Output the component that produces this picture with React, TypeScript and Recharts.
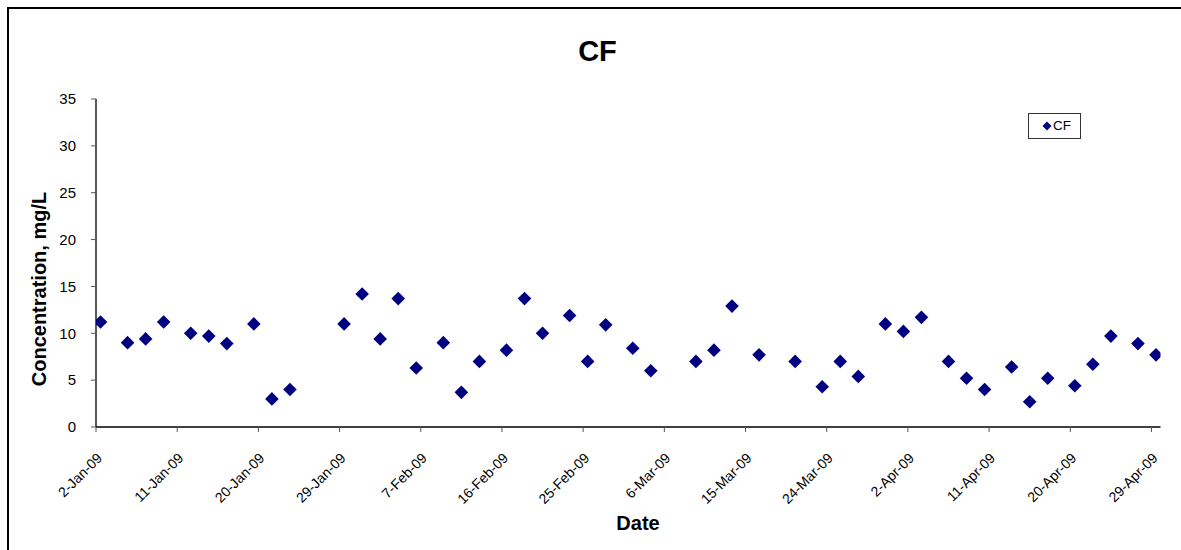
import React from "react";
import { ScatterChart, Scatter, XAxis, YAxis, Legend } from "recharts";

// Sample dates and CF concentrations (mg/L)
const SAMPLE_DATES = [
  "2009-01-02", "2009-01-05", "2009-01-07", "2009-01-09", "2009-01-12", "2009-01-14",
  "2009-01-16", "2009-01-19", "2009-01-21", "2009-01-23", "2009-01-29", "2009-01-31",
  "2009-02-02", "2009-02-04", "2009-02-06", "2009-02-09", "2009-02-11", "2009-02-13",
  "2009-02-16", "2009-02-18", "2009-02-20", "2009-02-23", "2009-02-25", "2009-02-27",
  "2009-03-02", "2009-03-04", "2009-03-09", "2009-03-11", "2009-03-13", "2009-03-16",
  "2009-03-20", "2009-03-23", "2009-03-25", "2009-03-27", "2009-03-30", "2009-04-01",
  "2009-04-03", "2009-04-06", "2009-04-08", "2009-04-10", "2009-04-13", "2009-04-15",
  "2009-04-17", "2009-04-20", "2009-04-22", "2009-04-24", "2009-04-27", "2009-04-29",
];

const CF_VALUES = [
  11.2, 9.0, 9.4, 11.2, 10.0, 9.7,
  8.9, 11.0, 3.0, 4.0, 11.0, 14.2,
  9.4, 13.7, 6.3, 9.0, 3.7, 7.0,
  8.2, 13.7, 10.0, 11.9, 7.0, 10.9,
  8.4, 6.0, 7.0, 8.2, 12.9, 7.7,
  7.0, 4.3, 7.0, 5.4, 11.0, 10.2,
  11.7, 7.0, 5.2, 4.0, 6.4, 2.7,
  5.2, 4.4, 6.7, 9.7, 8.9, 7.7,
];

const Y_TICKS = [0, 5, 10, 15, 20, 25, 30, 35];
const TICK_STEP_DAYS = 9;
const MONTHS = ["Jan", "Feb", "Mar", "Apr", "May", "Jun", "Jul", "Aug", "Sep", "Oct", "Nov", "Dec"];

const FONT = "'Liberation Sans', Arial, sans-serif";
const MARKER = "#000080";
const DAY_MS = 86400000;

const toUtc = (iso: string) => {
  const [y, m, d] = iso.split("-").map(Number);
  return Date.UTC(y, m - 1, d);
};
const START = toUtc(SAMPLE_DATES[0]);
const dayIndex = (iso: string) => Math.round((toUtc(iso) - START) / DAY_MS);

const formatDay = (idx: number) => {
  const dt = new Date(START + idx * DAY_MS);
  return `${dt.getUTCDate()}-${MONTHS[dt.getUTCMonth()]}-${String(dt.getUTCFullYear()).slice(2)}`;
};

const data = SAMPLE_DATES.map((d, i) => ({ day: dayIndex(d), cf: CF_VALUES[i] }));
const lastDay = dayIndex(SAMPLE_DATES[SAMPLE_DATES.length - 1]);

// Excel-style date axis: each day is a slot, ticks sit on the slot's left edge
const xTicks: number[] = [];
for (let t = 0; t <= lastDay; t += TICK_STEP_DAYS) xTicks.push(t - 0.5);

const Diamond = (props: any) => {
  const { cx, cy } = props;
  const r = 6.8;
  return (
    <polygon
      points={`${cx},${cy - r} ${cx + r},${cy} ${cx},${cy + r} ${cx - r},${cy}`}
      fill={MARKER}
    />
  );
};

const DateTick = (props: any) => {
  const { x, y, payload } = props;
  const tx = x + 7;
  const ty = y + 25;
  return (
    <text
      x={tx}
      y={ty}
      textAnchor="end"
      transform={`rotate(-45, ${tx}, ${ty})`}
      fontSize={14}
      fontFamily={FONT}
      fill="#000"
    >
      {formatDay(payload.value + 0.5)}
    </text>
  );
};

const LegendBox = () => (
  <div
    style={{
      position: "relative",
      width: 53,
      height: 26,
      boxSizing: "border-box",
      border: "1px solid #333",
      background: "#fff",
      fontFamily: FONT,
    }}
  >
    <svg width={10} height={10} style={{ position: "absolute", left: 13, top: 7 }}>
      <polygon points="5,0.5 9.5,5 5,9.5 0.5,5" fill={MARKER} />
    </svg>
    <span style={{ position: "absolute", left: 24, top: 4, fontSize: 13.5, lineHeight: "16px", color: "#000" }}>
      CF
    </span>
  </div>
);

export default function App() {
  return (
    <div
      style={{
        position: "fixed",
        left: 0,
        top: 0,
        width: 1181,
        height: 550,
        overflow: "hidden",
        background: "#fff",
      }}
    >
      {/* chart area frame, runs off the right and bottom edges */}
      <div
        style={{
          position: "absolute",
          left: 7,
          top: 7,
          width: 1300,
          height: 700,
          border: "2px solid #000",
        }}
      />
      <svg width={1181} height={550} style={{ position: "absolute", left: 0, top: 0 }}>
        <text x={597.5} y={61} textAnchor="middle" fontSize={29} fontWeight="bold" fontFamily={FONT} fill="#000">
          CF
        </text>
      </svg>
      <div style={{ position: "absolute", left: 0, top: 0 }}>
        <ScatterChart width={1181} height={550} margin={{ top: 99, right: 20.5, bottom: 23, left: 0 }}>
          <XAxis
            type="number"
            dataKey="day"
            domain={[-0.5, lastDay + 0.5]}
            ticks={xTicks}
            interval={0}
            allowDataOverflow
            height={100}
            tickSize={5}
            tick={<DateTick />}
            axisLine={{ stroke: "#000", strokeWidth: 1.3 }}
            tickLine={{ stroke: "#555" }}
            label={{
              content: () => (
                <text x={638} y={530} textAnchor="middle" fontSize={20} fontWeight="bold" fontFamily={FONT} fill="#000">
                  Date
                </text>
              ),
            }}
          />
          <YAxis
            type="number"
            dataKey="cf"
            domain={[0, 35]}
            ticks={Y_TICKS}
            interval={0}
            width={96}
            tickSize={5}
            tickMargin={15}
            tick={{ fontSize: 15, fontFamily: FONT, fill: "#000" }}
            axisLine={{ stroke: "#000", strokeWidth: 1.3 }}
            tickLine={{ stroke: "#555" }}
            label={{
              content: () => (
                <text
                  x={46}
                  y={289}
                  textAnchor="middle"
                  transform="rotate(-90, 46, 289)"
                  fontSize={20}
                  fontWeight="bold"
                  fontFamily={FONT}
                  fill="#000"
                >
                  Concentration, mg/L
                </text>
              ),
            }}
          />
          <Legend
            layout="horizontal"
            verticalAlign="middle"
            align="center"
            wrapperStyle={{ position: "absolute", left: 1028, top: 113, width: 53, height: 26 }}
            content={<LegendBox />}
          />
          <Scatter name="CF" data={data} shape={<Diamond />} isAnimationActive={false} />
        </ScatterChart>
      </div>
    </div>
  );
}
